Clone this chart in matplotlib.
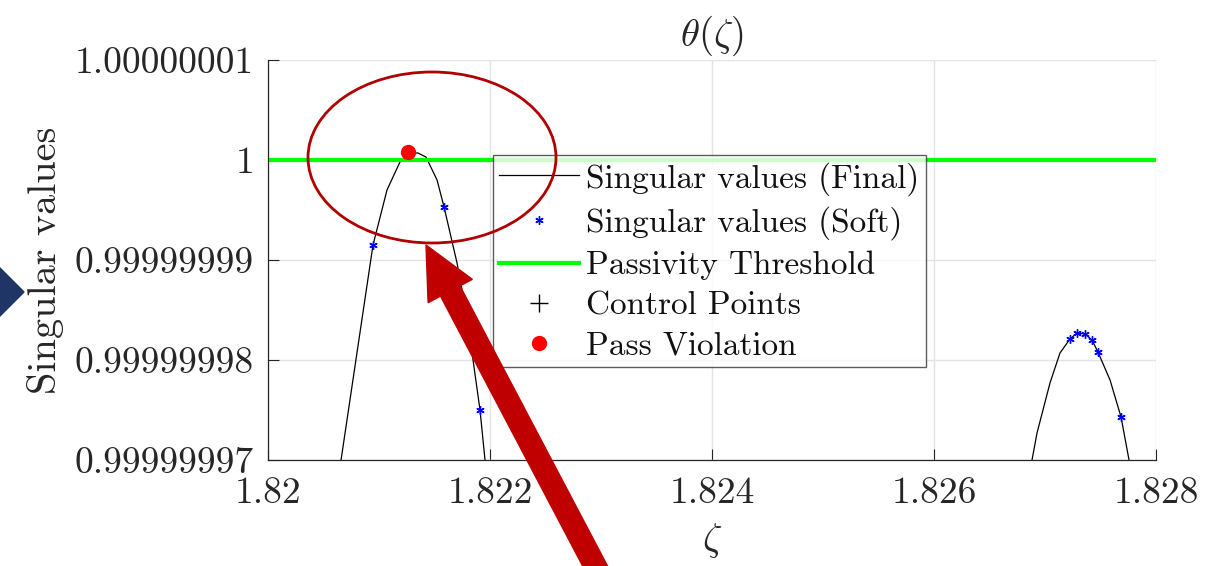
import matplotlib
matplotlib.use('Agg')
import matplotlib.pyplot as plt
from matplotlib.patches import Ellipse, FancyArrow, Polygon
from matplotlib.transforms import IdentityTransform
from matplotlib.ticker import FixedLocator, FixedFormatter

plt.rcParams['font.family'] = 'cmr10'
plt.rcParams['mathtext.fontset'] = 'cm'
plt.rcParams['axes.formatter.use_mathtext'] = True

# singular values, final curve (two lobes)
zeta_a = [1.82064, 1.820658, 1.820946, 1.821072, 1.821189, 1.821261, 1.821351,
          1.821423, 1.821523, 1.821586, 1.821703, 1.821793, 1.821910, 1.821955, 1.82197]
sv_a = [0.9999999690, 0.9999999700, 0.9999999915, 0.9999999970, 0.9999999998, 1.0000000007,
        1.0000000007, 1.0000000003, 0.9999999980, 0.9999999953, 0.9999999897, 0.9999999843,
        0.9999999750, 0.9999999700, 0.9999999690]
zeta_b = [1.82687, 1.826883, 1.826928, 1.827045, 1.827135, 1.827225, 1.827288, 1.827360,
          1.827423, 1.827477, 1.827586, 1.827685, 1.827757, 1.82777]
sv_b = [0.9999999690, 0.9999999700, 0.9999999727, 0.9999999777, 0.9999999807, 0.9999999821,
        0.9999999827, 0.9999999826, 0.9999999820, 0.9999999808, 0.9999999780, 0.9999999743,
        0.9999999700, 0.9999999690]

# soft singular values
zeta_soft = [1.820946, 1.821586, 1.821910, 1.827225, 1.827288, 1.827360, 1.827423, 1.827477, 1.827685]
sv_soft = [0.9999999915, 0.9999999953, 0.9999999750, 0.9999999821, 0.9999999827,
           0.9999999826, 0.9999999820, 0.9999999808, 0.9999999743]

threshold = 1.0
zeta_viol = [1.821261]
sv_viol = [1.0000000008]

xticks = [1.82, 1.822, 1.824, 1.826, 1.828]
xlabels = ['1.82', '1.822', '1.824', '1.826', '1.828']
yticks = [0.99999997, 0.99999998, 0.99999999, 1.0, 1.00000001]
ylabels = ['0.99999997', '0.99999998', '0.99999999', '1', '1.00000001']

fig = plt.figure(figsize=(12.16, 5.66), dpi=100)
ax = fig.add_axes([268 / 1216, 106 / 566, 888 / 1216, 400 / 566])

dark = '#262626'
ax.plot(zeta_a, sv_a, color='black', lw=0.9, label='Singular values (Final)')
ax.plot(zeta_b, sv_b, color='black', lw=0.9)
ax.plot(zeta_soft, sv_soft, ls='none', marker=(6, 2, 0), ms=6, mew=1.0,
        color='blue', label='Singular values (Soft)', zorder=3)
ax.axhline(threshold, color='#00ff00', lw=3, label='Passivity Threshold', zorder=2)
ax.plot([], [], ls='none', marker='+', ms=13, mew=1.0, color='black', label='Control Points')
ax.plot(zeta_viol, sv_viol, ls='none', marker='o', ms=10, color='red', label='Pass Violation', zorder=4)

ax.set_xlim(1.82, 1.828)
ax.set_ylim(0.99999997, 1.00000001)
ax.xaxis.set_major_locator(FixedLocator(xticks))
ax.xaxis.set_major_formatter(FixedFormatter(xlabels))
ax.yaxis.set_major_locator(FixedLocator(yticks))
ax.yaxis.set_major_formatter(FixedFormatter(ylabels))
ax.tick_params(direction='in', length=8, width=0.8, colors=dark, labelsize=27)
ax.tick_params(axis='x', pad=12)
ax.tick_params(axis='y', pad=10)
ax.grid(True, color='#e3e3e3', lw=1)
ax.set_axisbelow(True)
for s in ['top', 'right']:
    ax.spines[s].set_visible(False)
for s in ['left', 'bottom']:
    ax.spines[s].set_color(dark)
    ax.spines[s].set_linewidth(0.9)

ax.set_title(r'$\theta(\zeta)$', fontsize=28, color=dark, pad=10)
ax.set_xlabel(r'$\zeta$', fontsize=28, color=dark, labelpad=8)
ax.set_ylabel('Singular values', fontsize=29, color=dark, labelpad=8)

leg = ax.legend(loc='upper left', bbox_to_anchor=(0.253, 0.7625), borderaxespad=0,
                fontsize=24, frameon=True, fancybox=False, handlelength=2.4,
                labelspacing=0.32, borderpad=0.2, handletextpad=0.2)
leg.get_frame().set_edgecolor('#333333')
leg.get_frame().set_linewidth(1.0)
for t in leg.get_texts():
    t.set_color('#111111')

# highlight annotations (pixel coordinates, origin bottom left)
ident = IdentityTransform()
fig.add_artist(Ellipse((432, 566 - 157.5), 248, 171, fill=False, edgecolor='#b00000',
                       lw=2, transform=ident, zorder=10))
fig.add_artist(FancyArrow(613, -34, 426 - 613, 321 + 34, width=22, head_width=50,
                          head_length=52, length_includes_head=True, color='#c00000',
                          transform=ident, zorder=11))
fig.add_artist(Polygon([(-30, 274 + 54), (24, 274), (-30, 274 - 54)], closed=True,
                       color='#1f3566', transform=ident, zorder=11))

fig.savefig('out.png', dpi=100)
